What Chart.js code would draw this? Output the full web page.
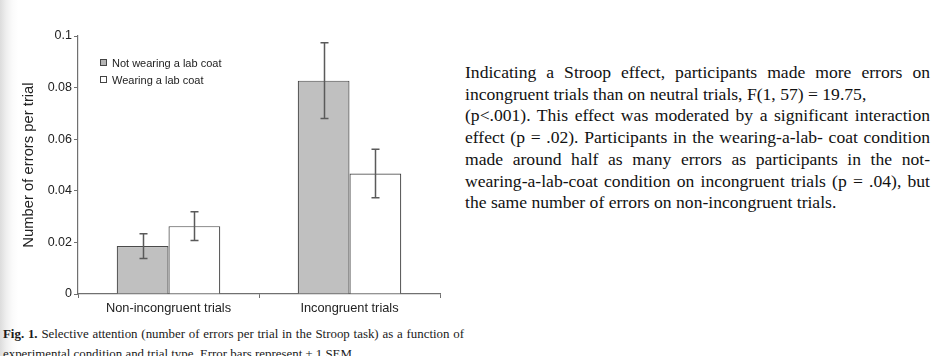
<!DOCTYPE html>
<html>
<head>
<meta charset="utf-8">
<script src="https://cdn.jsdelivr.net/npm/chart.js@4.4.1/dist/chart.umd.min.js"></script>
<style>
  html, body { margin: 0; padding: 0; }
  body {
    width: 938px; height: 356px; overflow: hidden; position: relative;
    background: linear-gradient(to right, #dcdcdc 0px, #eeeeee 6px, #fafafa 12px, #ffffff 18px);
  }
  #wrap { position: absolute; left: 0; top: 0; width: 460px; height: 320px; }
  .leg { position: absolute; left: 100px; font-family: "Liberation Sans", Arial, sans-serif; font-size: 11px; color: #222; line-height: 12px; white-space: nowrap; }
  .leg span.sq { display: inline-block; width: 5px; height: 5px; border: 1px solid #444; margin-right: 5px; vertical-align: 1px; }
  #para { position: absolute; left: 465px; top: 62px; width: 465px; font-family: "Liberation Serif", "Times New Roman", serif; font-size: 17.6px; line-height: 21.7px; color: #111; }
  #para div { white-space: nowrap; }
  #para div.j { text-align: justify; text-align-last: justify; white-space: normal; }
  #cap { position: absolute; left: 3px; top: 324px; width: 461px; font-family: "Liberation Serif", "Times New Roman", serif; font-size: 12.9px; line-height: 20px; color: #1a1a1a; }
  #cap div { white-space: nowrap; }
  #cap div.j { text-align: justify; text-align-last: justify; white-space: normal; }
</style>
</head>
<body>
<div id="wrap"><canvas id="c" width="460" height="320"></canvas></div>
<div class="leg" style="top:57px;"><span class="sq" style="background:#b4b4b4"></span>Not wearing a lab coat</div>
<div class="leg" style="top:74px;"><span class="sq" style="background:#fff"></span>Wearing a lab coat</div>
<div id="para">
  <div class="j">Indicating a Stroop effect, participants made more errors on</div>
  <div>incongruent trials than on neutral trials, F(1, 57) = 19.75,</div>
  <div class="j">(p&lt;.001). This effect was moderated by a significant interaction</div>
  <div class="j">effect (p = .02). Participants in the wearing-a-lab- coat condition</div>
  <div class="j">made around half as many errors as participants in the not-</div>
  <div class="j">wearing-a-lab-coat condition on incongruent trials (p = .04), but</div>
  <div>the same number of errors on non-incongruent trials.</div>
</div>
<div id="cap">
  <div class="j"><b>Fig. 1.</b> Selective attention (number of errors per trial in the Stroop task) as a function of</div>
  <div>experimental condition and trial type. Error bars represent ± 1 SEM.</div>
</div>
<script>
const categories = ['Non-incongruent trials', 'Incongruent trials'];
const seriesNames = ['Not wearing a lab coat', 'Wearing a lab coat'];
const notWearing = [0.0186, 0.0827];
const wearing = [0.0263, 0.0467];
const notWearingSem = [0.0048, 0.0147];
const wearingSem = [0.0056, 0.0094];
const yTickValues = [0, 0.02, 0.04, 0.06, 0.08, 0.1];
const yTickLabels = ['0', '0.02', '0.04', '0.06', '0.08', '0.1'];
const yTitle = 'Number of errors per trial';

const axisGray = '#707070';

const errorBars = {
  id: 'errorBars',
  afterDatasetsDraw(chart) {
    const ctx = chart.ctx;
    const ys = chart.scales.y;
    ctx.save();
    ctx.strokeStyle = '#5a5a5a';
    ctx.lineWidth = 1.5;
    chart.data.datasets.forEach((ds, di) => {
      const meta = chart.getDatasetMeta(di);
      meta.data.forEach((el, i) => {
        const v = ds.data[i], e = ds.sem[i];
        const x = Math.round(el.x) + 0.5;
        const y1 = ys.getPixelForValue(v + e);
        const y2 = ys.getPixelForValue(v - e);
        ctx.beginPath();
        ctx.moveTo(x, y1); ctx.lineTo(x, y2);
        ctx.moveTo(x - 4, y1); ctx.lineTo(x + 4, y1);
        ctx.moveTo(x - 4, y2); ctx.lineTo(x + 4, y2);
        ctx.stroke();
      });
    });
    ctx.restore();
  }
};

new Chart(document.getElementById('c'), {
  type: 'bar',
  data: {
    labels: categories,
    datasets: [
      { label: seriesNames[0], data: notWearing, sem: notWearingSem, backgroundColor: '#c0c0c0', borderColor: '#4a4a4a', borderWidth: 1.2, borderSkipped: 'bottom' },
      { label: seriesNames[1], data: wearing, sem: wearingSem, backgroundColor: '#ffffff', borderColor: '#4a4a4a', borderWidth: 1.2, borderSkipped: 'bottom' }
    ]
  },
  options: {
    responsive: false,
    animation: false,
    devicePixelRatio: 1,
    layout: { padding: { left: 0, right: 20, top: 36, bottom: 0 } },
    plugins: { legend: { display: false }, tooltip: { enabled: false } },
    datasets: { bar: { categoryPercentage: 0.572, barPercentage: 1.0 } },
    scales: {
      x: {
        afterFit(s) { s.height = 26; },
        grid: { offset: true, drawOnChartArea: false, drawTicks: true, tickLength: 4, color: axisGray, lineWidth: 1 },
        border: { display: true, color: axisGray, width: 1.2 },
        ticks: { padding: 3, color: '#222', font: { family: 'Liberation Sans', size: 12.8 } }
      },
      y: {
        min: 0, max: 0.1,
        afterFit(s) { s.width = 78; },
        afterBuildTicks(s) { s.ticks = yTickValues.map(v => ({ value: v })); },
        grid: { drawOnChartArea: false, drawTicks: true, tickLength: 4, color: axisGray, lineWidth: 1 },
        border: { display: true, color: axisGray, width: 1.2 },
        ticks: {
          padding: 2, color: '#222', font: { family: 'Liberation Sans', size: 12.5 },
          callback(v) { const i = yTickValues.findIndex(t => Math.abs(t - v) < 1e-9); return i >= 0 ? yTickLabels[i] : ''; }
        },
        title: { display: true, text: yTitle, color: '#222', font: { family: 'Liberation Sans', size: 14.8 }, padding: { top: 20, bottom: 0 } }
      }
    }
  },
  plugins: [errorBars]
});
</script>
</body>
</html>
